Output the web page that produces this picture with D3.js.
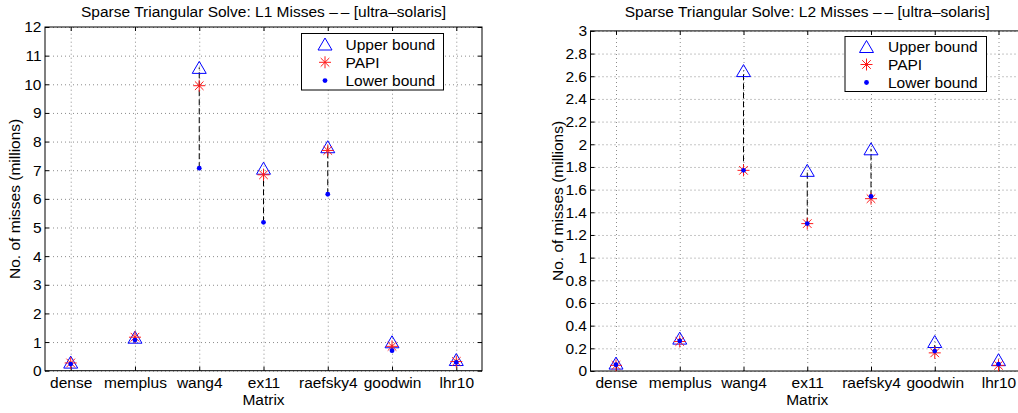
<!DOCTYPE html>
<html>
<head>
<meta charset="utf-8">
<script src="https://cdn.jsdelivr.net/npm/d3@7/dist/d3.min.js"></script>
<style>
  body { margin: 0; background: #fff; }
  svg { font-family: "Liberation Sans", Arial, Helvetica, sans-serif; }
  .grid line { stroke: #8c8c8c; stroke-width: 1; stroke-dasharray: 1,3; }
  .grid path { display: none; }
  .axis path { display: none; }
  .axis line { stroke: #000; }
  .axis text { font-size: 15.5px; fill: #000; }
  .frame { fill: none; stroke: #000; stroke-width: 1; }
  .range-line { stroke: #000; stroke-width: 1; stroke-dasharray: 6,3; }
  .papi line { stroke: #ff1a1a; stroke-width: 1; }
  .upper { fill: none; stroke: #0000ff; stroke-width: 1; }
  .lower { fill: #0000ff; }
</style>
</head>
<body>
<div id="chart"></div>
<script>
const matrices = ['dense', 'memplus', 'wang4', 'ex11', 'raefsky4', 'goodwin', 'lhr10'];

// L1 misses (millions)
const l1Upper = [0.30, 1.17, 10.59, 7.07, 7.82, 1.01, 0.39];
const l1Papi = [0.27, 1.17, 9.95, 6.84, 7.69, 0.85, 0.32];
const l1Lower = [0.23, 1.07, 7.07, 5.18, 6.16, 0.70, 0.29];
const l1Ticks = [0, 1, 2, 3, 4, 5, 6, 7, 8, 9, 10, 11, 12];

// L2 misses (millions)
const l2Upper = [0.07, 0.29, 2.65, 1.77, 1.96, 0.26, 0.10];
const l2Papi = [0.05, 0.26, 1.77, 1.30, 1.52, 0.16, 0.05];
const l2Lower = [0.055, 0.265, 1.77, 1.30, 1.54, 0.176, 0.06];
const l2Ticks = [0, 0.2, 0.4, 0.6, 0.8, 1, 1.2, 1.4, 1.6, 1.8, 2, 2.2, 2.4, 2.6, 2.8, 3];

const legendLabels = ['Upper bound', 'PAPI', 'Lower bound'];

class MissChart {
  constructor(svg, options) {
    this.options = options;
    this.svg = svg;
    this.setupVar();
    this.setupUtils();
  }

  setupVar() {
    const o = this.options;
    this.left = o.left;
    this.right = o.right;
    this.top = o.top;
    this.bottom = o.bottom;
    this.tickLen = 4;
    this.fontSize = '15.5px';
  }

  setupUtils() {
    this.x = d3.scaleLinear().domain([0.6, 7.4]).range([this.left, this.right]);
    this.y = d3.scaleLinear().domain([0, this.options.yMax]).range([this.bottom, this.top]);
  }

  rows() {
    const o = this.options;
    return matrices.map((m, i) => ({
      code: m, pos: i + 1, upper: o.upper[i], papi: o.papi[i], lower: o.lower[i]
    }));
  }

  drawGraph() {
    const o = this.options;
    const g = this.svg.append('g').attr('class', 'miss-chart');
    const w = this.right - this.left;
    const h = this.bottom - this.top;
    const xTicks = matrices.map((d, i) => i + 1);

    // grid
    g.append('g').attr('class', 'grid')
      .attr('transform', `translate(0,${this.bottom})`)
      .call(d3.axisBottom(this.x).tickValues(xTicks).tickSize(-h).tickFormat(''));
    g.append('g').attr('class', 'grid')
      .attr('transform', `translate(${this.left},0)`)
      .call(d3.axisLeft(this.y).tickValues(o.ticks).tickSize(-w).tickFormat(''));

    // axes, ticks on all four sides pointing inward
    g.append('g').attr('class', 'axis')
      .attr('transform', `translate(0,${this.bottom})`)
      .call(d3.axisBottom(this.x).tickValues(xTicks).tickSize(-this.tickLen).tickPadding(6)
        .tickFormat((d) => matrices[d - 1]));
    g.append('g').attr('class', 'axis')
      .attr('transform', `translate(0,${this.top})`)
      .call(d3.axisTop(this.x).tickValues(xTicks).tickSize(-this.tickLen).tickFormat(''));
    g.append('g').attr('class', 'axis')
      .attr('transform', `translate(${this.left},0)`)
      .call(d3.axisLeft(this.y).tickValues(o.ticks).tickSize(-this.tickLen).tickPadding(3.5)
        .tickFormat(d3.format('~g')));
    g.append('g').attr('class', 'axis')
      .attr('transform', `translate(${this.right},0)`)
      .call(d3.axisRight(this.y).tickValues(o.ticks).tickSize(-this.tickLen).tickFormat(''));

    g.append('rect').attr('class', 'frame')
      .attr('x', this.left).attr('y', this.top)
      .attr('width', w).attr('height', h);

    // title + labels
    g.append('text')
      .attr('x', (this.left + this.right) / 2).attr('y', 17)
      .attr('text-anchor', 'middle').attr('font-size', this.fontSize)
      .text(o.title);
    g.append('text')
      .attr('x', (this.left + this.right) / 2).attr('y', this.bottom + 34)
      .attr('text-anchor', 'middle').attr('font-size', this.fontSize)
      .text('Matrix');
    g.append('text')
      .attr('transform', `translate(${o.yLabelX},${(this.top + this.bottom) / 2}) rotate(-90)`)
      .attr('text-anchor', 'middle').attr('font-size', this.fontSize)
      .text('No. of misses (millions)');

    const data = this.rows();
    const pts = g.append('g').attr('class', 'points');

    pts.selectAll('line.range-line').data(data).enter()
      .append('line').attr('class', 'range-line')
      .attr('x1', (d) => this.x(d.pos)).attr('x2', (d) => this.x(d.pos))
      .attr('y1', (d) => this.y(d.lower)).attr('y2', (d) => this.y(d.upper));

    pts.selectAll('path.upper').data(data).enter()
      .append('path').attr('class', 'upper')
      .attr('d', (d) => this.triangle(this.x(d.pos), this.y(d.upper)));

    pts.selectAll('g.papi').data(data).enter()
      .append('g').attr('class', 'papi')
      .each((d, i, n) => this.asterisk(d3.select(n[i]), this.x(d.pos), this.y(d.papi)));

    pts.selectAll('circle.lower').data(data).enter()
      .append('circle').attr('class', 'lower')
      .attr('cx', (d) => this.x(d.pos)).attr('cy', (d) => this.y(d.lower))
      .attr('r', 2.4);

    this.drawLegend(g);
  }

  triangle(cx, cy) {
    const hw = 7, hh = 6;
    return `M${cx},${cy - hh}L${cx + hw},${cy + hh}L${cx - hw},${cy + hh}Z`;
  }

  asterisk(sel, cx, cy) {
    const r = 6, d = 4.3;
    sel.append('line').attr('x1', cx - r).attr('x2', cx + r).attr('y1', cy).attr('y2', cy);
    sel.append('line').attr('x1', cx).attr('x2', cx).attr('y1', cy - r).attr('y2', cy + r);
    sel.append('line').attr('x1', cx - d).attr('x2', cx + d).attr('y1', cy - d).attr('y2', cy + d);
    sel.append('line').attr('x1', cx - d).attr('x2', cx + d).attr('y1', cy + d).attr('y2', cy - d);
  }

  drawLegend(g) {
    const L = this.options.legend;
    const lg = g.append('g').attr('class', 'legend');
    lg.append('rect')
      .attr('x', L.x).attr('y', L.y).attr('width', L.w).attr('height', L.h)
      .attr('fill', '#fff').attr('stroke', '#000').attr('stroke-width', 1);
    const mx = L.x + L.markerDx;
    const rowY = (i) => L.y + L.firstRow + i * L.rowGap;
    lg.append('path').attr('class', 'upper').attr('d', this.triangle(mx, rowY(0)));
    this.asterisk(lg.append('g').attr('class', 'papi'), mx, rowY(1));
    lg.append('circle').attr('class', 'lower').attr('cx', mx).attr('cy', rowY(2)).attr('r', 2.4);
    lg.selectAll('text').data(legendLabels).enter()
      .append('text')
      .attr('x', L.x + L.textDx).attr('y', (d, i) => rowY(i))
      .attr('dy', '0.36em').attr('font-size', this.fontSize)
      .text((d) => d);
  }
}

const svg = d3.select('#chart').append('svg')
  .attr('width', 1018).attr('height', 413);

new MissChart(svg, {
  left: 45, right: 482, top: 27, bottom: 370.7, yMax: 12,
  ticks: l1Ticks, upper: l1Upper, papi: l1Papi, lower: l1Lower,
  title: 'Sparse Triangular Solve: L1 Misses \u2013\u2009\u2013 [ultra\u2013solaris]',
  yLabelX: 20,
  legend: { x: 301.5, y: 33.5, w: 142, h: 56.5, markerDx: 23.5, textDx: 44, firstRow: 10.5, rowGap: 18.3 }
}).drawGraph();

new MissChart(svg, {
  left: 590.5, right: 1024, top: 30.9, bottom: 371, yMax: 3,
  ticks: l2Ticks, upper: l2Upper, papi: l2Papi, lower: l2Lower,
  title: 'Sparse Triangular Solve: L2 Misses \u2013\u2009\u2013 [ultra\u2013solaris]',
  yLabelX: 563,
  legend: { x: 845, y: 36.5, w: 141.5, h: 55, markerDx: 21.5, textDx: 43, firstRow: 10, rowGap: 18 }
}).drawGraph();
</script>
</body>
</html>
